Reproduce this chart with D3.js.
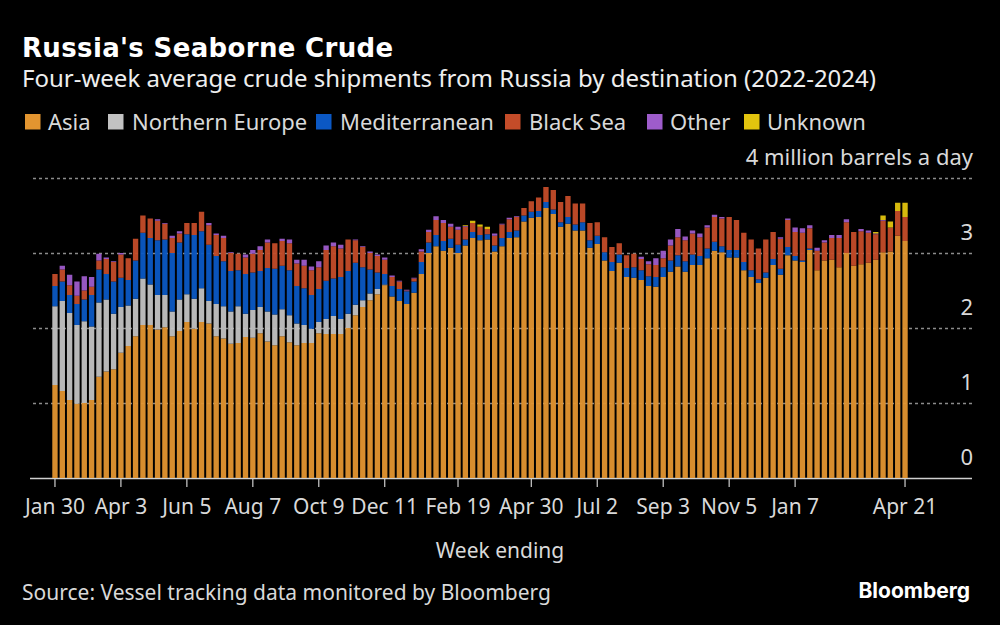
<!DOCTYPE html>
<html>
<head>
<meta charset="utf-8">
<script src="https://cdnjs.cloudflare.com/ajax/libs/d3/7.8.5/d3.min.js"></script>
<style>
  html, body { margin: 0; padding: 0; background: #000; }
  svg { display: block; }
  text { font-family: "Noto Sans", sans-serif; fill: #d9d9d9; }
  .grid .tick line { stroke: #8c8c8c; stroke-width: 1.4; stroke-dasharray: 3 3; }
  .grid .tick:first-of-type line { stroke: #cfcfcf; stroke-width: 1.6; stroke-dasharray: none; }
  .xaxis line { stroke: #cfcfcf; stroke-width: 1.2; }
</style>
</head>
<body>
<svg id="chart" width="1000" height="625"></svg>
<script>
const seriesNames = ['Asia', 'Northern Europe', 'Mediterranean', 'Black Sea', 'Other', 'Unknown'];
const seriesColors = ['#e39530', '#c2c2c2', '#0b58c4', '#c44c29', '#9e5ccb', '#e3c40e'];
const legendSwatchX = [25, 108, 316, 505, 647, 744];
const legendLabelX = [48, 132, 340, 529, 670, 767];

const tickWeeks = ['2022-01-30', '2022-04-03', '2022-06-05', '2022-08-07', '2022-10-09', '2022-12-11',
  '2023-02-19', '2023-04-30', '2023-07-02', '2023-09-03', '2023-11-05', '2024-01-07', '2024-04-21'];

// million barrels a day, 117 weeks
const asia = [1.24,1.16,1.04,0.99,1.00,1.04,1.35,1.42,1.45,1.67,1.76,1.89,2.04,2.04,1.98,2.01,1.89,1.96,2.08,1.99,
  2.08,2.06,1.89,1.86,1.79,1.80,1.88,1.87,1.93,1.82,1.77,1.89,1.81,1.77,1.80,1.80,1.93,1.92,1.92,1.92,
  2.00,2.17,2.28,2.37,2.45,2.57,2.42,2.36,2.32,2.47,2.72,3.00,3.09,3.03,3.07,3.00,3.10,3.20,3.17,3.18,
  3.02,3.09,3.20,3.21,3.42,3.47,3.48,3.60,3.52,3.35,3.39,3.30,3.30,3.07,3.12,2.90,2.76,2.87,2.68,2.67,
  2.64,2.56,2.55,2.68,2.75,2.82,2.75,2.84,2.84,2.93,3.03,3.01,2.94,2.94,2.77,2.68,2.60,2.67,2.84,2.71,
  2.97,2.90,2.88,3.04,2.77,2.90,2.91,2.81,3.00,2.83,2.85,2.87,2.91,3.01,3.02,3.23,3.16];
const northernEurope = [1.05,1.20,1.16,1.05,1.09,0.98,0.99,0.96,0.74,0.61,0.54,0.50,0.62,0.54,0.46,0.43,0.33,0.42,0.37,0.40,
  0.45,0.30,0.43,0.43,0.43,0.49,0.31,0.37,0.35,0.40,0.41,0.36,0.36,0.29,0.24,0.19,0.15,0.20,0.24,0.20,
  0.19,0.14,0.09,0.09,0.07,0.01,0,0,0,0,0,0,0,0,0,0,0,0,0,0,
  0,0,0,0,0,0,0,0,0,0,0,0,0,0,0,0,0,0,0,0,
  0,0,0,0,0,0,0,0,0,0,0,0,0,0,0,0,0,0,0,0,
  0,0,0,0,0,0,0,0,0,0,0,0,0,0,0,0,0];
const mediterranean = [0.27,0.26,0.24,0.28,0.29,0.42,0.44,0.34,0.43,0.39,0.34,0.51,0.61,0.62,0.73,0.74,0.78,0.76,0.80,0.85,
  0.76,0.75,0.64,0.60,0.54,0.48,0.53,0.50,0.48,0.58,0.61,0.58,0.60,0.50,0.49,0.45,0.44,0.51,0.50,0.56,
  0.57,0.56,0.44,0.32,0.22,0.14,0.14,0.16,0.17,0.15,0.16,0.14,0.15,0.13,0.12,0.11,0.08,0.08,0.07,0.07,
  0.08,0.11,0.08,0.09,0.08,0.08,0.08,0.08,0.06,0.06,0.09,0.08,0.11,0.10,0.11,0.11,0.12,0.11,0.12,0.14,
  0.13,0.13,0.13,0.13,0.15,0.15,0.14,0.14,0.12,0.13,0.12,0.08,0.10,0.10,0.11,0.09,0.05,0.07,0.08,0.08,
  0.11,0.06,0.02,0.02,0,0,0,0,0,0,0,0,0,0,0,0,0];
const blackSea = [0.16,0.16,0.13,0.11,0.12,0.11,0.12,0.20,0.26,0.31,0.29,0.29,0.23,0.26,0.26,0.21,0.20,0.12,0.15,0.16,
  0.26,0.26,0.28,0.31,0.24,0.22,0.22,0.25,0.28,0.34,0.34,0.33,0.36,0.30,0.30,0.33,0.29,0.41,0.43,0.38,
  0.42,0.30,0.27,0.22,0.22,0.19,0.12,0.10,0.01,0.04,0.14,0.14,0.20,0.24,0.16,0.20,0.17,0.12,0.11,0.07,
  0.13,0.18,0.17,0.18,0.10,0.14,0.18,0.20,0.26,0.27,0.28,0.28,0.25,0.23,0.18,0.20,0.20,0.15,0.17,0.18,
  0.15,0.16,0.16,0.12,0.20,0.24,0.28,0.28,0.25,0.28,0.33,0.37,0.44,0.40,0.39,0.41,0.41,0.44,0.36,0.40,
  0.36,0.32,0.37,0.27,0.26,0.24,0.29,0.39,0.41,0.45,0.44,0.40,0.34,0.42,0.32,0.33,0.32];
const other = [0,0.05,0.14,0.19,0.19,0.13,0.09,0.02,0.01,0.02,0,0,0,0,0.02,0.01,0.03,0.03,0,0,
  0,0.03,0.02,0.03,0.01,0,0.04,0.05,0.05,0.04,0,0.03,0.05,0.05,0.08,0.05,0.08,0.06,0.05,0.05,
  0,0.01,0.01,0.02,0.02,0.03,0.02,0.01,0.01,0.01,0.03,0.03,0.05,0.04,0.04,0.04,0.01,0,0,0,
  0.03,0.01,0.02,0.01,0,0,0,0,0,0,0,0,0,0,0,0,0,0,0,0,
  0.03,0.04,0.09,0.10,0.08,0.11,0.05,0.04,0.05,0.03,0.03,0.02,0,0,0,0,0,0,0,0.02,
  0.02,0.06,0.06,0.04,0.04,0.03,0.04,0.04,0.04,0,0.03,0.03,0.01,0.01,0,0,0];
const unknown = [0,0,0,0,0,0,0,0,0,0,0,0,0,0,0,0,0,0,0,0,
  0,0,0,0,0,0,0,0,0,0,0,0,0,0,0,0,0,0,0,0,
  0,0,0,0,0,0,0,0,0,0,0,0,0,0,0,0,0.01,0.03,0.03,0.03,
  0,0,0,0,0,0,0,0,0,0,0,0,0,0,0,0,0,0,0,0,
  0,0,0,0,0,0,0,0,0,0,0,0,0,0,0,0,0,0,0,0,
  0,0,0,0,0,0,0,0,0,0,0,0,0.02,0.06,0.08,0.11,0.19];

const seriesValues = [asia, northernEurope, mediterranean, blackSea, other, unknown];
const isoDay = d3.utcFormat('%Y-%m-%d');
const weeks = d3.utcWeek.range(Date.UTC(2022, 0, 30), Date.UTC(2024, 3, 22)).map(isoDay);
const rows = weeks.map((w, i) => {
  const row = { week: w };
  seriesNames.forEach((s, j) => { row[s] = seriesValues[j][i]; });
  return row;
});

const svg = d3.select('#chart');

const x = d3.scaleBand().domain(weeks).range([51.3, 908.7]).paddingInner(0.27).paddingOuter(0.135);
const y = d3.scaleLinear().domain([0, 4]).range([478, 178]);
const color = d3.scaleOrdinal().domain(seriesNames).range(seriesColors);

// title block
svg.append('text').attr('x', 22).attr('y', 57).attr('font-size', 26).attr('font-weight', 700)
  .style('font-family', '"DejaVu Sans", sans-serif').style('letter-spacing', '0.35px').style('fill', '#fff')
  .text("Russia's Seaborne Crude");
svg.append('text').attr('x', 22).attr('y', 87).attr('font-size', 24).style('fill', '#eee')
  .text('Four-week average crude shipments from Russia by destination (2022-2024)');

// legend
const legend = svg.append('g').selectAll('g').data(seriesNames).join('g');
legend.append('rect').attr('x', (d, i) => legendSwatchX[i]).attr('y', 114)
  .attr('width', 15.5).attr('height', 15.5).attr('fill', d => color(d));
legend.append('text').attr('x', (d, i) => legendLabelX[i]).attr('y', 130).attr('font-size', 22).text(d => d);

// grid and value labels
const yAxis = d3.axisLeft(y).tickValues([0, 1, 2, 3, 4]).tickSize(942)
  .tickFormat(d => d === 4 ? '4 million barrels a day' : d);
const grid = svg.append('g').attr('class', 'grid').attr('transform', 'translate(972,0)').call(yAxis);
grid.select('.domain').remove();
grid.selectAll('text').attr('x', 1).attr('dy', -14).attr('font-size', 22).attr('font-family', null)
  .style('text-anchor', 'end').style('fill', '#d9d9d9');

// stacked bars, slightly see-through so the grid shows faintly
const stack = d3.stack().keys(seriesNames)(rows);
svg.append('g').attr('fill-opacity', 0.95).selectAll('g').data(stack).join('g')
  .attr('fill', d => color(d.key))
  .selectAll('rect').data(d => d).join('rect')
  .attr('x', d => x(d.data.week))
  .attr('width', x.bandwidth())
  .attr('y', d => y(d[1]))
  .attr('height', d => y(d[0]) - y(d[1]));

// x axis
const xAxis = d3.axisBottom(x).tickValues(tickWeeks).tickSize(9).tickSizeOuter(0)
  .tickFormat(d => d3.utcFormat('%b %-d')(new Date(d)));
const xg = svg.append('g').attr('class', 'xaxis').attr('transform', 'translate(0,478)').call(xAxis);
xg.select('.domain').remove();
xg.selectAll('text').attr('y', 21).attr('dy', '0.71em').attr('font-size', 21).attr('font-family', null).style('fill', '#d9d9d9');

svg.append('text').attr('x', 500).attr('y', 558).attr('font-size', 21).attr('text-anchor', 'middle').text('Week ending');
svg.append('text').attr('x', 22).attr('y', 600).attr('font-size', 21).text('Source: Vessel tracking data monitored by Bloomberg');
svg.append('text').attr('x', 970).attr('y', 598).attr('font-size', 21).attr('font-weight', 700).attr('text-anchor', 'end')
  .style('font-family', 'Inter, sans-serif').style('fill', '#fff').text('Bloomberg');
</script>
</body>
</html>
